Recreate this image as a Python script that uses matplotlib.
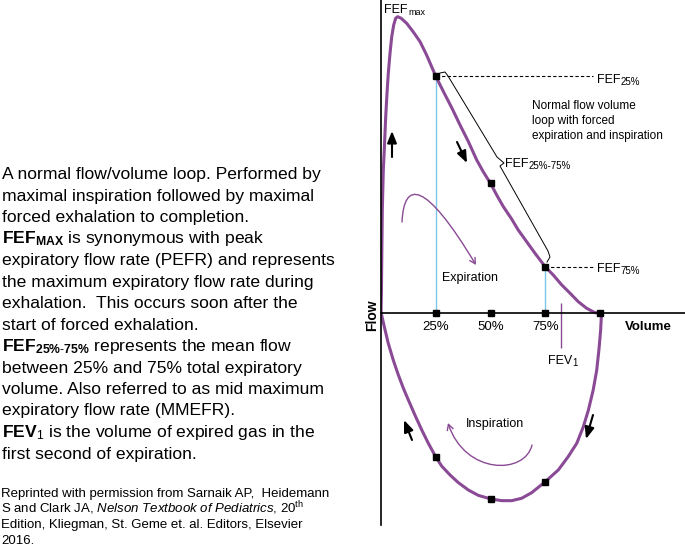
import matplotlib
matplotlib.use("Agg")
import matplotlib.pyplot as plt
from matplotlib.patches import FancyArrowPatch
from matplotlib.path import Path

# Flow-volume loop (volume in % of FVC, flow in arbitrary units)
exp_volume = [0, 0.2, 0.4, 0.6, 1.05, 1.5, 2.15, 2.74, 3.33, 4.11, 4.89, 5.8, 6.71, 7.63,
              9.13, 11.7, 14.7, 17.8, 20.8, 25, 28.5, 32.4, 36.1, 39.9, 43.7, 46.7, 50,
              52.8, 55.8, 59.7, 62.7, 66.5, 70.3, 75, 78.7, 82.5, 86.3, 90.1, 93.9, 97.7, 100]
exp_flow = [0, 0.78, 2.13, 3.48, 4.83, 5.51, 6.63, 7.42, 8.10, 8.77, 9.33, 9.73, 9.96, 10.01,
            9.96, 9.79, 9.50, 9.17, 8.72, 8.0, 7.48, 6.92, 6.35, 5.79, 5.17, 4.77, 4.38,
            3.99, 3.60, 3.17, 2.80, 2.41, 2.02, 1.56, 1.28, 0.95, 0.67, 0.38, 0.16, 0.01, 0]

insp_volume = [0, 0.3, 1.5, 3.3, 5.6, 7.9, 10.2, 12.5, 15.5, 18.6, 21.6, 25, 27.7, 31.5,
               35.3, 39.9, 44.4, 50, 55.1, 59.7, 64.2, 68.8, 75, 81.0, 85.5, 89.4, 92.4,
               94.7, 96.9, 98.5, 99.5, 100.3, 100.6, 100]
insp_flow = [0, -0.07, -0.46, -1.02, -1.59, -2.09, -2.54, -2.94, -3.45, -3.95, -4.40, -4.86,
             -5.17, -5.47, -5.73, -5.98, -6.16, -6.28, -6.34, -6.34, -6.26, -6.07, -5.70,
             -5.30, -4.85, -4.40, -3.84, -3.28, -2.60, -1.93, -1.25, -0.57, -0.13, 0]

pct_ticks = [25, 50, 75]
pct_labels = ["25%", "50%", "75%"]
exp_marks = [8.0, 4.38, 1.56]
insp_marks = [-4.86, -6.28, -5.70]
axis_marks = [25, 50, 75, 100]
fev1_volume = 82

left_lines = [
    "A normal flow/volume loop. Performed by",
    "maximal inspiration followed by maximal",
    "forced exhalation to completion.",
    r"$\mathbf{FEF_{MAX}}$ is synonymous with peak",
    "expiratory flow rate (PEFR) and represents",
    "the maximum expiratory flow rate during",
    "exhalation.  This occurs soon after the",
    "start of forced exhalation.",
    r"$\mathbf{FEF_{25\%\text{-}75\%}}$ represents the mean flow",
    "between 25% and 75% total expiratory",
    "volume. Also referred to as mid maximum",
    "expiratory flow rate (MMEFR).",
    r"$\mathbf{FEV}_\mathrm{1}$ is the volume of expired gas in the",
    "first second of expiration.",
]
credit_lines = [
    "Reprinted with permission from Sarnaik AP,  Heidemann",
    r"S and Clark JA, $\it{Nelson\ Textbook\ of\ Pediatrics}$, 20$^\mathrm{th}$",
    "Edition, Kliegman, St. Geme et. al. Editors, Elsevier",
    "2016.",
]

plt.rcParams["font.family"] = ["Liberation Sans", "DejaVu Sans"]
plt.rcParams["mathtext.fontset"] = "custom"
plt.rcParams["mathtext.rm"] = "Liberation Sans"
plt.rcParams["mathtext.it"] = "Liberation Sans:italic"
plt.rcParams["mathtext.bf"] = "Liberation Sans:bold"

W, H = 685, 549
X0, XS = 381, 2.19      # pixel of 0 % volume, pixels per %
Y0, YS = 313, 29.6      # pixel of zero flow, pixels per flow unit


def P(x, y):
    # pixel position -> data position (only used for annotation placement)
    return ((x - X0) / XS, (Y0 - y) / YS)


purple = "#8a4a95"
blue = "#7cc6e8"
cs = 9

fig = plt.figure(figsize=(W / 100, H / 100), dpi=100)
ax = fig.add_axes([X0 / W, (H - 525) / H, (W - X0) / W, 525 / H])
ax.set_xlim(0, (W - X0) / XS)
ax.set_ylim((Y0 - 525) / YS, Y0 / YS)
ax.patch.set_alpha(0)
for s in ["top", "right"]:
    ax.spines[s].set_visible(False)
ax.spines["bottom"].set_position(("data", 0))
ax.spines["left"].set_linewidth(1.2)
ax.spines["bottom"].set_linewidth(1.2)
ax.set_yticks([])
ax.set_xticks(pct_ticks)
ax.set_xticklabels(pct_labels, fontsize=cs + 0.5)
ax.tick_params(axis="x", length=0, pad=6)

# guide lines
ax.vlines([pct_ticks[0], pct_ticks[2]], 0, [exp_marks[0], exp_marks[2]], color=blue, lw=1.0, zorder=1)
x_end = P(593, 0)[0]
ax.hlines([exp_marks[0], exp_marks[2]], [pct_ticks[0], pct_ticks[2]], x_end,
          color="black", lw=0.8, linestyles=(0, (3, 2)), zorder=1)
ax.vlines(fev1_volume, P(0, 348)[1], P(0, 303)[1], color=purple, lw=1.0)

# loop
ax.plot(exp_volume, exp_flow, color=purple, lw=2.2, solid_joinstyle="round", zorder=2)
ax.plot(insp_volume, insp_flow, color=purple, lw=2.2, solid_joinstyle="round", zorder=2)
ax.plot(pct_ticks, exp_marks, "s", color="black", ms=4, zorder=3)
ax.plot(pct_ticks, insp_marks, "s", color="black", ms=4, zorder=3)
ax.plot(axis_marks, [0] * len(axis_marks), "s", color="black", ms=4, zorder=3, clip_on=False)

# bracket for FEF25-75
bx = [440, 445, 448, 497, 504, 500, 548, 550, 547]
by = [73, 72, 76, 157, 163, 166, 251, 257, 262]
ax.plot(*zip(*[P(x, y) for x, y in zip(bx, by)]), color="black", lw=0.7)


def sub_label(x, y, main, sub, size=cs, subsize=7):
    t = ax.text(*P(x, y), main, ha="left", va="baseline", fontsize=size)
    ax.annotate(sub, xy=(1, 0), xycoords=t, xytext=(0.3, -1.0), textcoords="offset points",
                ha="left", va="bottom", fontsize=subsize)


sub_label(384, 13, "FEF", "max", subsize=6.5)
sub_label(597, 83, "FEF", "25%")
sub_label(597, 272, "FEF", "75%")
sub_label(505, 167, "FEF", "25%-75%")
sub_label(548, 364, "FEV", "1")
ax.text(*P(470, 278), "Expiration", ha="center", va="center", fontsize=cs)
ax.text(*P(495, 424), "Inspiration", ha="center", va="center", fontsize=cs)
ax.text(*P(532, 121), "Normal flow volume\nloop with forced\nexpiration and inspiration",
        ha="left", va="center", linespacing=1.35, fontsize=8.5)
ax.text(*P(648, 327), "Volume", ha="center", va="center", fontweight="bold", fontsize=cs + 0.5)
ax.text(*P(372, 315), "Flow", ha="center", va="center", rotation=90, fontweight="bold",
        fontsize=cs + 1, clip_on=False)

# black direction arrows
black_arrows = [((392, 157), (392, 131)), ((457, 142), (467, 163)),
                ((412, 440), (404, 420)), ((593, 415), (586, 439))]
for tail, head in black_arrows:
    ax.annotate("", xy=P(*head), xytext=P(*tail),
                arrowprops=dict(arrowstyle="-|>,head_length=0.7,head_width=0.28",
                                color="black", lw=1.5, shrinkA=0, shrinkB=0))

# purple curved arrows
curves = [[(402, 222), (404, 180), (425, 180), (476, 265)],
          [(532, 445), (525, 475), (465, 475), (448, 423)]]
for pts in curves:
    path = Path([P(*p) for p in pts], [Path.MOVETO, Path.CURVE4, Path.CURVE4, Path.CURVE4])
    ax.add_patch(FancyArrowPatch(path=path, arrowstyle="->,head_length=4,head_width=2.2",
                                 color=purple, lw=1.0))

# left description text
for i, line in enumerate(left_lines):
    fig.text(2 / W, 1 - (179 + 21.5 * i) / H, line, fontsize=12.6, va="baseline", ha="left")
for i, line in enumerate(credit_lines):
    fig.text(1 / W, 1 - (497 + 15.7 * i) / H, line, fontsize=9.5, va="baseline", ha="left")

fig.savefig("out.png", dpi=100)
